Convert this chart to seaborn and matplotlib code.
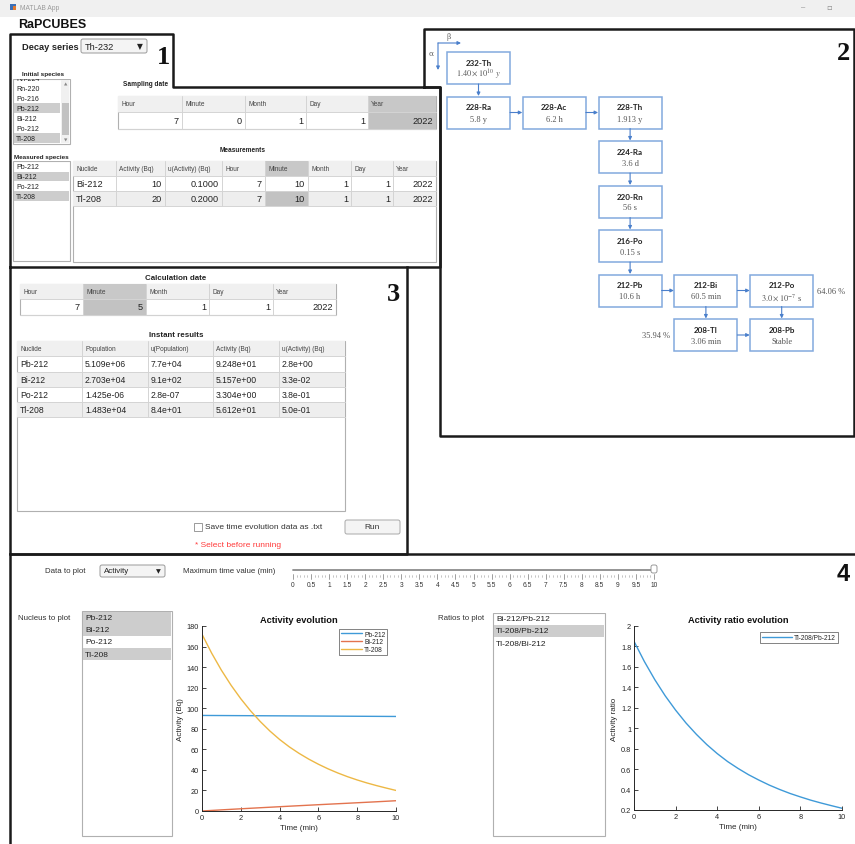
import matplotlib
matplotlib.use("Agg")
import matplotlib.pyplot as plt
from matplotlib.patches import Rectangle, FancyBboxPatch
import pandas as pd
import seaborn as sns

# ---------------- data ----------------
decay_series = "Th-232"
initial_species = ["Rn-224", "Rn-220", "Po-216", "Pb-212", "Bi-212", "Po-212", "Tl-208"]
initial_selected = ["Pb-212", "Tl-208"]
measured_species = ["Pb-212", "Bi-212", "Po-212", "Tl-208"]
measured_selected = ["Bi-212", "Tl-208"]

date_fields = ["Hour", "Minute", "Month", "Day", "Year"]
sampling_date = [7, 0, 1, 1, 2022]
calculation_date = [7, 5, 1, 1, 2022]

meas_header = ["Nuclide", "Activity (Bq)", "u(Activity) (Bq)", "Hour", "Minute", "Month", "Day", "Year"]
meas_nuclide = ["Bi-212", "Tl-208"]
meas_activity = ["10", "20"]
meas_u_activity = ["0.1000", "0.2000"]
meas_datetime = [[7, 10, 1, 1, 2022], [7, 10, 1, 1, 2022]]

result_header = ["Nuclide", "Population", "u(Population)", "Activity (Bq)", "u(Activity) (Bq)"]
result_nuclide = ["Pb-212", "Bi-212", "Po-212", "Tl-208"]
result_population = ["5.109e+06", "2.703e+04", "1.425e-06", "1.483e+04"]
result_u_population = ["7.7e+04", "9.1e+02", "2.8e-07", "8.4e+01"]
result_activity = ["9.248e+01", "5.157e+00", "3.304e+00", "5.612e+01"]
result_u_activity = ["2.8e+00", "3.3e-02", "3.8e-01", "5.0e-01"]

chain_nuclides = ["232-Th", "228-Ra", "228-Ac", "228-Th", "224-Ra", "220-Rn",
                  "216-Po", "212-Pb", "212-Bi", "212-Po", "208-Tl", "208-Pb"]
chain_half_lives = [r"$1.40\times10^{10}\ y$", "5.8 y", "6.2 h", "1.913 y", "3.6 d", "56 s",
                    "0.15 s", "10.6 h", "60.5 min", r"$3.0\times10^{-7}$ s", "3.06 min", "Stable"]
chain_links = [("232-Th", "228-Ra"), ("228-Ra", "228-Ac"), ("228-Ac", "228-Th"),
               ("228-Th", "224-Ra"), ("224-Ra", "220-Rn"), ("220-Rn", "216-Po"),
               ("216-Po", "212-Pb"), ("212-Pb", "212-Bi"), ("212-Bi", "212-Po"),
               ("212-Bi", "208-Tl"), ("212-Po", "208-Pb"), ("208-Tl", "208-Pb")]
branch_po212 = "64.06 %"
branch_tl208 = "35.94 %"

plot_options = ["Activity"]
slider_max = 10
slider_labels = ["0", "0.5", "1", "1.5", "2", "2.5", "3", "3.5", "4", "4.5", "5",
                 "5.5", "6", "6.5", "7", "7.5", "8", "8.5", "9", "9.5", "10"]
nucleus_items = ["Pb-212", "Bi-212", "Po-212", "Tl-208"]
nucleus_selected = ["Pb-212", "Bi-212", "Tl-208"]
ratio_items = ["Bi-212/Pb-212", "Tl-208/Pb-212", "Tl-208/Bi-212"]
ratio_selected = ["Tl-208/Pb-212"]

time_min = [0, 0.5, 1, 1.5, 2, 2.5, 3, 3.5, 4, 4.5, 5,
            5.5, 6, 6.5, 7, 7.5, 8, 8.5, 9, 9.5, 10]
act_pb212 = [92.98, 92.93, 92.88, 92.83, 92.78, 92.73, 92.68, 92.63, 92.58, 92.53, 92.48,
             92.43, 92.38, 92.33, 92.28, 92.23, 92.18, 92.13, 92.08, 92.03, 91.98]
act_bi212 = [0.0, 0.55, 1.1, 1.62, 2.15, 2.66, 3.17, 3.67, 4.17, 4.67, 5.157,
             5.64, 6.12, 6.6, 7.07, 7.54, 8.02, 8.5, 8.98, 9.48, 10.0]
act_tl208 = [172.0, 153.5, 137.0, 122.3, 109.2, 97.5, 87.1, 77.8, 69.6, 62.4, 56.12,
             50.5, 45.5, 41.0, 37.0, 33.4, 30.2, 27.3, 24.7, 22.3, 20.0]
ratio_tl208_pb212 = [1.85, 1.652, 1.475, 1.317, 1.177, 1.051, 0.940, 0.840, 0.752, 0.674, 0.607,
                     0.546, 0.493, 0.444, 0.401, 0.362, 0.328, 0.296, 0.268, 0.242, 0.217]

# ---------------- style ----------------
sns.set_theme(style="ticks")
plt.rcParams["font.family"] = ["Liberation Sans", "DejaVu Sans"]
plt.rcParams["mathtext.fontset"] = "stix"

W, H = 855, 845
fig = plt.figure(figsize=(W / 100, H / 100), dpi=100)
fig.patch.set_facecolor("white")
bg = fig.add_axes([0, 0, 1, 1])
bg.set_xlim(0, W)
bg.set_ylim(H, 0)
bg.axis("off")

INK = "#222222"
GRID = "#d4d4d4"
BORDER = "#b0b0b0"
SEL = "#cdcdcd"


def px2fig(x0, y0, x1, y1):
    return [x0 / W, 1 - y1 / H, (x1 - x0) / W, (y1 - y0) / H]


def rect(x0, y0, x1, y1, fc="none", ec="none", lw=0.8, z=1):
    p = Rectangle((x0, y0), x1 - x0, y1 - y0, facecolor=fc, edgecolor=ec, linewidth=lw, zorder=z)
    bg.add_patch(p)
    return p


def rbox(x0, y0, x1, y1, fc="#f5f5f5", ec="#a0a0a0", lw=0.7, z=2):
    p = FancyBboxPatch((x0, y0), x1 - x0, y1 - y0, boxstyle="round,pad=0,rounding_size=2",
                       facecolor=fc, edgecolor=ec, linewidth=lw, zorder=z, mutation_aspect=1)
    bg.add_patch(p)
    return p


def txt(x, y, s, size=6, color=INK, ha="left", va="center", weight="normal",
        family=None, z=5):
    kw = {"family": family} if family else {}
    return bg.text(x, y, s, fontsize=size, color=color, ha=ha, va=va,
                   fontweight=weight, zorder=z, **kw)


def line(xs, ys, color="#1a1a1a", lw=1.8, z=6):
    bg.plot(xs, ys, color=color, lw=lw, zorder=z, solid_capstyle="projecting")


def table(xs, ys, header, rows, hl_header=(), hl_cells=(), left_cols=(0,),
          bottom=None, hsize=4.7, dsize=6.5):
    x0, x1 = xs[0], xs[-1]
    ybot = bottom if bottom is not None else ys[-1]
    rect(x0, ys[0], x1, ybot, fc="white", ec=BORDER, lw=0.8, z=1)
    rect(x0, ys[0], x1, ys[1], fc="#f0f0f0", z=1.1)
    for j in hl_header:
        rect(xs[j], ys[0], xs[j + 1], ys[1], fc="#c8c8c8", z=1.2)
    for i in range(len(rows)):
        if i % 2 == 1:
            rect(x0, ys[i + 1], x1, ys[i + 2], fc="#eeeeee", z=1.1)
    for (i, j) in hl_cells:
        rect(xs[j], ys[i + 1], xs[j + 1], ys[i + 2], fc="#c2c2c2", z=1.2)
    for x in xs[1:-1]:
        bg.plot([x, x], [ys[0], ys[-1]], color=GRID, lw=0.7, zorder=1.3)
    for y in ys[1:]:
        bg.plot([x0, x1], [y, y], color=GRID, lw=0.7, zorder=1.3)
    for j, h in enumerate(header):
        txt(xs[j] + 3, (ys[0] + ys[1]) / 2, h, size=hsize, color="#444444")
    for i, row in enumerate(rows):
        yc = (ys[i + 1] + ys[i + 2]) / 2
        for j, v in enumerate(row):
            if j in left_cols:
                txt(xs[j] + 3, yc, str(v), size=dsize)
            else:
                txt(xs[j + 1] - 3, yc, str(v), size=dsize, ha="right")


def listbox(x0, y0, x1, y1, items, selected, first_y, row_h, size=5.0, sel_x1=None):
    rect(x0, y0, x1, y1, fc="white", ec=BORDER, lw=0.8, z=1)
    for k, it in enumerate(items):
        yc = first_y + k * row_h
        if it in selected:
            rect(x0 + 0.6, max(yc - row_h / 2, y0 + 0.6), (sel_x1 or x1) - 0.6,
                 min(yc + row_h / 2, y1 - 0.6), fc=SEL, z=1.1)
        txt(x0 + 3, yc, it, size=size, z=1.5)
    # hide the part of a scrolled item that sits above the list's top edge
    rect(x0 - 1, y0 - 8, x1 + 1, y0 - 0.4, fc="white", z=1.6)


def dropdown(x0, y0, x1, y1, label, size):
    rbox(x0, y0, x1, y1, fc="#f4f4f4", ec="#9a9a9a")
    txt(x0 + 4, (y0 + y1) / 2, label, size=size)
    txt(x1 - 7, (y0 + y1) / 2, "▼", size=size - 1.2, ha="center", family="DejaVu Sans")


# ---------------- window chrome ----------------
rect(0, 0, W, 17.5, fc="#f0f0f0", z=0.5)
rect(10, 4.5, 16, 10.5, fc="#3b6fb6", z=1)
rect(12.5, 6.5, 16, 10.5, fc="#e07a30", z=1.1)
txt(20, 8, "MATLAB App", size=4.8, color="#9a9a9a")
txt(803, 8, "–", size=5.5, color="#8a8a8a", ha="center")
txt(829, 8, "▫", size=6, color="#8a8a8a", ha="center", family="DejaVu Sans")
txt(18, 25.5, "RaPCUBES", size=9, weight="bold", color="#111111")

# ---------------- panel outlines ----------------
line([10, 10, 173, 173, 440, 440, 10], [268, 35, 35, 88, 88, 268, 268])
line([424, 424, 854, 854, 440, 440, 424], [88, 30, 30, 437, 437, 88, 88])
line([10, 10, 407, 407], [268, 555, 555, 268])
line([10, 10], [555, 845])
line([10, 855], [555, 555])

txt(163, 58, "1", size=19, weight="bold", family="Liberation Serif", ha="center", color="#111111")
txt(843, 53, "2", size=19, weight="bold", family="Liberation Serif", ha="center", color="#111111")
txt(393, 295, "3", size=19, weight="bold", family="Liberation Serif", ha="center", color="#111111")
txt(843, 575, "4", size=17, weight="bold", ha="center", color="#111111")

# ---------------- panel 1: inputs ----------------
txt(22, 47, "Decay series", size=6.7, weight="bold")
dropdown(81, 40, 147, 54, decay_series, 6.7)

listbox(13, 80, 70, 145, initial_species, initial_selected, first_y=79.3, row_h=10.0,
        size=5.0, sel_x1=61)
txt(22, 74.5, "Initial species", size=4.6, weight="bold", z=2)
rect(61, 80.6, 69.4, 144.4, fc="#f0f0f0", z=1.4)
rect(62, 104, 68.6, 136, fc="#c2c2c2", z=1.5)
txt(65.2, 85, "▲", size=3.2, color="#888888", ha="center", family="DejaVu Sans")
txt(65.2, 141, "▼", size=3.2, color="#888888", ha="center", family="DejaVu Sans")

txt(123, 85, "Sampling date", size=4.7, weight="bold")
table([118, 182, 245, 306, 368, 436], [97, 113, 130], date_fields, [sampling_date],
      hl_header=(4,), hl_cells=((0, 4),), left_cols=(), dsize=6.6)

txt(243, 150, "Measurements", size=4.7, weight="bold", ha="center")
listbox(13, 162, 70, 262, measured_species, measured_selected, first_y=167.7, row_h=9.8, size=5.0)
txt(14, 157, "Measured species", size=4.6, weight="bold", z=2)

meas_rows = [[n, a, u] + dt for n, a, u, dt in zip(meas_nuclide, meas_activity, meas_u_activity, meas_datetime)]
table([73, 116, 165, 222, 265, 308, 351, 393, 436], [162, 177, 192, 207], meas_header, meas_rows,
      hl_header=(4,), hl_cells=((1, 4),), left_cols=(0,), bottom=263, dsize=6.6)

# ---------------- panel 2: decay chain ----------------
cells = {"232-Th": (0, 0), "228-Ra": (0, 1), "228-Ac": (1, 1), "228-Th": (2, 1),
         "224-Ra": (2, 2), "220-Rn": (2, 3), "216-Po": (2, 4), "212-Pb": (2, 5),
         "212-Bi": (3, 5), "212-Po": (4, 5), "208-Tl": (3, 6), "208-Pb": (4, 6)}
BW, BH = 63, 32
BLUE_EDGE = "#82a9de"
BLUE_ARROW = "#4a7fcb"


def box_xy(name):
    c, r = cells[name]
    return 447 + c * 75.8, 53 + r * 44.5


for name, hl in zip(chain_nuclides, chain_half_lives):
    x0, y0 = box_xy(name)
    rect(x0, y0, x0 + BW, y0 + BH, fc="white", ec=BLUE_EDGE, lw=1.1, z=3)
    txt(x0 + BW / 2, y0 + 10.5, name, size=5.8, weight="bold", ha="center", family="Lato")
    txt(x0 + BW / 2, y0 + 22, hl, size=6.0, color="#555555", ha="center", family="Liberation Serif")


def arrow(x0, y0, x1, y1):
    bg.annotate("", xy=(x1, y1), xytext=(x0, y0),
                arrowprops=dict(arrowstyle="-|>", color=BLUE_ARROW, lw=0.8,
                                mutation_scale=5, shrinkA=0, shrinkB=0), zorder=4)


for a, b in chain_links:
    ax0, ay0 = box_xy(a)
    bx0, by0 = box_xy(b)
    if cells[a][0] == cells[b][0]:
        arrow(ax0 + BW / 2, ay0 + BH, bx0 + BW / 2, by0 - 0.5)
    else:
        arrow(ax0 + BW, ay0 + BH / 2, bx0 - 0.5, by0 + BH / 2)

txt(817, 292, branch_po212, size=6.0, color="#555555", family="Liberation Serif")
txt(670, 336, branch_tl208, size=6.0, color="#555555", family="Liberation Serif", ha="right")

# alpha / beta direction key
arrow(438, 44, 461, 44)
arrow(438, 44, 438, 71)
txt(449, 37, "β", size=5.5, color="#666666", ha="center", family="DejaVu Serif")
txt(431, 54, "α", size=5.5, color="#666666", ha="center", family="DejaVu Serif")

# ---------------- panel 3: calculation ----------------
txt(176, 279, "Calculation date", size=5.7, weight="bold", ha="center")
table([20, 83, 146, 209, 273, 336], [285, 300, 316], date_fields, [calculation_date],
      hl_header=(1,), hl_cells=((0, 1),), left_cols=(), dsize=6.6)

txt(176, 336, "Instant results", size=5.7, weight="bold", ha="center")
res_rows = [list(r) for r in zip(result_nuclide, result_population, result_u_population,
                                 result_activity, result_u_activity)]
table([17, 82, 148, 213, 279, 345], [342, 357, 373, 388, 403, 418], result_header, res_rows,
      left_cols=(0, 1, 2, 3, 4), bottom=512, dsize=6.2)

rect(194, 524, 202, 532, fc="white", ec="#8a8a8a", lw=0.6, z=2)
txt(205, 528, "Save time evolution data as .txt", size=6.0, color="#333333")
rbox(345, 521, 400, 535, fc="#f4f4f4", ec="#a8a8a8")
txt(372.5, 528, "Run", size=6.0, ha="center", color="#333333")
txt(195, 546, "* Select before running", size=6.0, color="#ff3b3b")

# ---------------- panel 4: time evolution ----------------
txt(45, 572, "Data to plot", size=5.7, color="#333333")
dropdown(100, 566, 165, 578, plot_options[0], 5.7)
txt(183, 572, "Maximum time value (min)", size=5.7, color="#333333")

sx0, sx1 = 293.0, 654.0
bg.plot([sx0, sx1], [570.5, 570.5], color="#8c8c8c", lw=1.3, zorder=2)
n_minor = slider_max * 10
for k in range(n_minor + 1):
    x = sx0 + (sx1 - sx0) * k / n_minor
    if k % 5 == 0:
        bg.plot([x, x], [574.5, 579.5], color="#777777", lw=0.5, zorder=2)
    else:
        bg.plot([x, x], [576, 578], color="#999999", lw=0.4, zorder=2)
for k, lab in enumerate(slider_labels):
    x = sx0 + (sx1 - sx0) * k / (len(slider_labels) - 1)
    txt(x, 586, lab, size=4.8, ha="center", color="#333333")
rbox(651, 566, 657, 574, fc="white", ec="#8a8a8a", lw=0.6, z=3)

txt(18, 619, "Nucleus to plot", size=5.7, color="#333333")
listbox(82, 612, 172, 837, nucleus_items, nucleus_selected, first_y=618.2, row_h=12.3, size=6.0)

txt(438, 619, "Ratios to plot", size=5.7, color="#333333")
listbox(493, 614, 605, 837, ratio_items, ratio_selected, first_y=619.5, row_h=12.3, size=6.0)

AXC = "#262626"


def style_axes(ax):
    sns.despine(ax=ax)
    for s in ("left", "bottom"):
        ax.spines[s].set_color(AXC)
        ax.spines[s].set_linewidth(0.7)
    ax.tick_params(direction="in", length=3, width=0.6, labelsize=5.3, colors=AXC, pad=2)
    ax.set_facecolor("white")
    ax.grid(False)


# activity evolution
palette = {"Pb-212": "#3f9ad8", "Bi-212": "#e3734e", "Tl-208": "#edb845"}
df_act = pd.DataFrame({
    "Time (min)": time_min * 3,
    "Activity (Bq)": act_pb212 + act_bi212 + act_tl208,
    "Nuclide": ["Pb-212"] * len(time_min) + ["Bi-212"] * len(time_min) + ["Tl-208"] * len(time_min),
})
ax1 = fig.add_axes(px2fig(202, 627, 396, 812))
sns.lineplot(data=df_act, x="Time (min)", y="Activity (Bq)", hue="Nuclide",
             hue_order=["Pb-212", "Bi-212", "Tl-208"], palette=palette, linewidth=1.0, ax=ax1)
ax1.set_xlim(0, 10)
ax1.set_ylim(0, 180)
ax1.set_xticks(range(0, 11, 2))
ax1.set_yticks(range(0, 181, 20))
style_axes(ax1)
ax1.set_xlabel("Time (min)", fontsize=5.8, color=AXC, labelpad=2)
ax1.set_ylabel("Activity (Bq)", fontsize=5.8, color=AXC, labelpad=2)
ax1.set_title("Activity evolution", fontsize=6.7, fontweight="bold", color="#111111", pad=3)
leg = ax1.legend(loc="upper right", bbox_to_anchor=(0.955, 0.985), fontsize=4.8, frameon=True,
                 fancybox=False, edgecolor=AXC, handlelength=3.2, borderpad=0.3,
                 labelspacing=0.1, handletextpad=0.3, borderaxespad=0)
leg.get_frame().set_linewidth(0.5)

# activity ratio evolution
df_ratio = pd.DataFrame({"Time (min)": time_min, "Activity ratio": ratio_tl208_pb212,
                         "Ratio": [ratio_selected[0]] * len(time_min)})
ax2 = fig.add_axes(px2fig(634, 627, 842, 811))
sns.lineplot(data=df_ratio, x="Time (min)", y="Activity ratio", hue="Ratio",
             palette={ratio_selected[0]: "#3f9ad8"}, linewidth=1.0, ax=ax2)
ax2.set_xlim(0, 10)
ax2.set_ylim(0.2, 2)
ax2.set_xticks(range(0, 11, 2))
yt = [0.2, 0.4, 0.6, 0.8, 1.0, 1.2, 1.4, 1.6, 1.8, 2.0]
ax2.set_yticks(yt, labels=[f"{v:g}" for v in yt])
style_axes(ax2)
ax2.set_xlabel("Time (min)", fontsize=5.8, color=AXC, labelpad=2)
ax2.set_ylabel("Activity ratio", fontsize=5.8, color=AXC, labelpad=2)
ax2.set_title("Activity ratio evolution", fontsize=6.7, fontweight="bold", color="#111111", pad=3)
leg2 = ax2.legend(loc="upper right", bbox_to_anchor=(0.981, 0.968), fontsize=4.8, frameon=True,
                  fancybox=False, edgecolor=AXC, handlelength=4.5, borderpad=0.3,
                  handletextpad=0.3, borderaxespad=0)
leg2.get_frame().set_linewidth(0.5)

fig.savefig("out.png", dpi=100, facecolor="white")
